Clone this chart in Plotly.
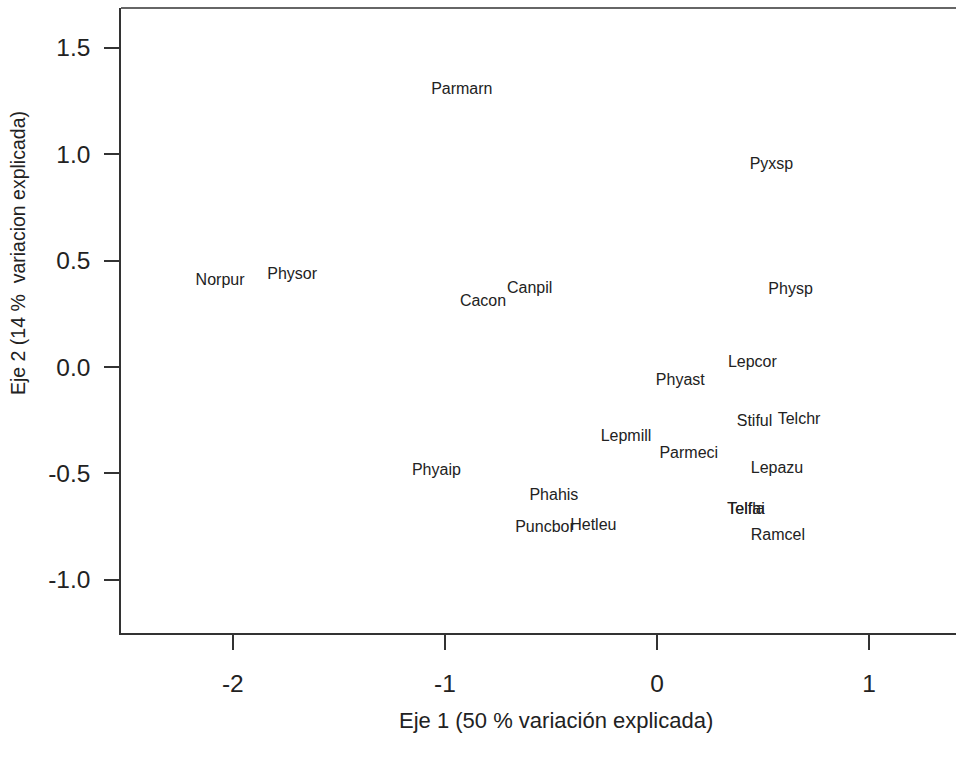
import plotly.graph_objects as go

species = ["Parmarn", "Pyxsp", "Norpur", "Physor", "Canpil", "Cacon", "Physp",
           "Lepcor", "Phyast", "Stiful", "Telchr", "Lepmill", "Parmeci", "Lepazu",
           "Phyaip", "Phahis", "Telfla", "Telfai", "Ramcel", "Puncbor", "Hetleu"]
eje1 = [-0.92, 0.54, -2.06, -1.72, -0.60, -0.82, 0.63,
        0.45, 0.11, 0.46, 0.67, -0.146, 0.15, 0.566,
        -1.04, -0.486, 0.42, 0.42, 0.57, -0.528, -0.30]
eje2 = [1.304, 0.948, 0.403, 0.431, 0.365, 0.304, 0.361,
        0.021, -0.064, -0.257, -0.248, -0.328, -0.408, -0.479,
        -0.488, -0.606, -0.672, -0.672, -0.795, -0.757, -0.748]

x_ticks = [-2, -1, 0, 1]
y_ticks = [-1.0, -0.5, 0.0, 0.5, 1.0, 1.5]
y_ticklabels = ["-1.0", "-0.5", "0.0", "0.5", "1.0", "1.5"]

FONT = "Liberation Sans, Arial, sans-serif"
INK = "#222222"
LINE = "#333333"

fig = go.Figure(go.Scatter(
    x=eje1, y=eje2, text=species, mode="text",
    textposition="middle center",
    textfont=dict(family=FONT, size=16, color=INK),
    hoverinfo="text", showlegend=False,
))

fig.update_layout(
    width=956, height=758,
    margin=dict(l=121, r=0, t=8, b=125),
    paper_bgcolor="white", plot_bgcolor="white",
    font=dict(family=FONT, color=INK),
    xaxis=dict(
        range=[-2.527, 1.41], tickvals=x_ticks, ticktext=[str(v) for v in x_ticks],
        showgrid=False, zeroline=False, showline=True, linecolor=LINE, linewidth=1.5,
        ticks="outside", ticklen=15, tickcolor=LINE, tickwidth=1.5,
        tickfont=dict(size=24.5, family=FONT, color=INK), ticklabelstandoff=13,
    ),
    yaxis=dict(
        range=[-1.25, 1.687], tickvals=y_ticks, ticktext=y_ticklabels,
        showgrid=False, zeroline=False, showline=True, linecolor=LINE, linewidth=1.5,
        ticks="outside", ticklen=15, tickcolor=LINE, tickwidth=1.5,
        tickfont=dict(size=24.5, family=FONT, color=INK), ticklabelstandoff=9,
    ),
    shapes=[dict(type="line", xref="paper", yref="paper", x0=0, x1=1, y0=1, y1=1,
                 line=dict(color=LINE, width=1.5))],
    annotations=[
        dict(text="Eje 1 (50 % variación explicada)", xref="paper", yref="paper",
             x=0.521, y=0, yshift=-87, xanchor="center", yanchor="middle",
             showarrow=False, font=dict(size=22, family=FONT, color=INK)),
        dict(text="Eje 2 (14 %  variacion explicada)", xref="paper", yref="paper",
             x=0, xshift=-103, y=0.608, xanchor="center", yanchor="middle", textangle=-90,
             showarrow=False, font=dict(size=19.5, family=FONT, color=INK)),
    ],
)

fig.write_html(
    "out.html",
    config={"displayModeBar": False},
    post_script="document.body.style.margin='0';document.body.style.overflow='hidden';"
                "document.documentElement.style.overflow='hidden';",
)
